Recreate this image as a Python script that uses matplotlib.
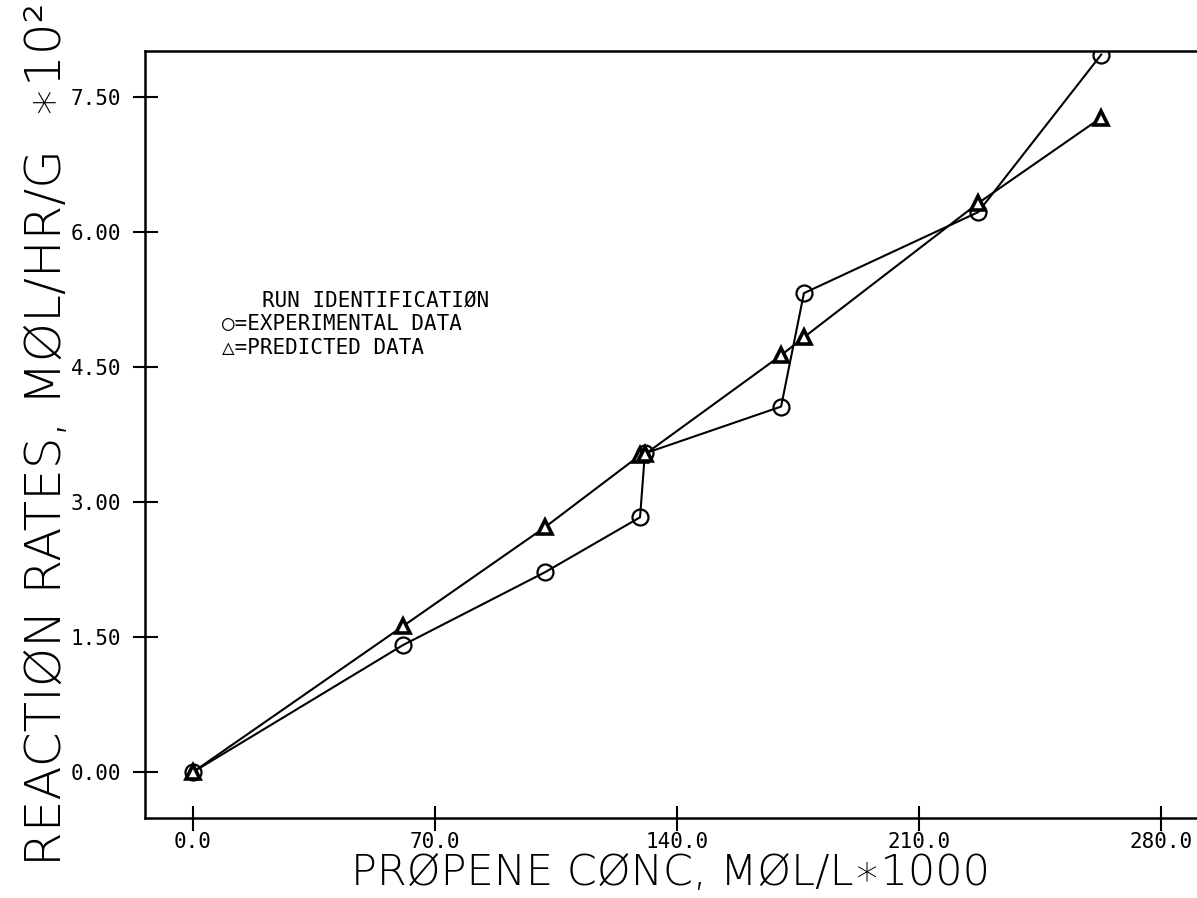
import matplotlib
matplotlib.use("Agg")
import matplotlib.pyplot as plt
from matplotlib.ticker import FixedLocator, FixedFormatter

# Propene concentration (mol/L * 1000)
conc = [0.0, 60.7, 101.8, 129.3, 130.7, 170.1, 176.7, 227.1, 262.7]
# Reaction rates (mol/hr/g * 10^2)
rate_exp = [0.00, 1.41, 2.22, 2.83, 3.54, 4.06, 5.32, 6.22, 7.97]
rate_pred = [0.00, 1.62, 2.72, 3.52, 3.53, 4.63, 4.83, 6.32, 7.27]

x_ticks = [0.0, 70.0, 140.0, 210.0, 280.0]
x_tick_labels = ["0.0", "70.0", "140.0", "210.0", "280.0"]
y_ticks = [0.0, 1.5, 3.0, 4.5, 6.0, 7.5]
y_tick_labels = ["0.00", "1.50", "3.00", "4.50", "6.00", "7.50"]

fig = plt.figure(figsize=(11.97, 8.98), dpi=100)
ax = fig.add_axes([0.1211, 0.0891, 0.8789, 0.8541])

ax.plot(conc, rate_exp, color="black", lw=1.5, marker="o", ms=11.5,
        mfc="none", mec="black", mew=1.6, zorder=3)
ax.plot(conc, rate_pred, color="black", lw=1.5, marker="^", ms=10,
        mfc="white", mec="black", mew=2.6, zorder=3)

ax.set_xlim(-13.9, 290.4)
ax.set_ylim(-0.51, 8.01)

for side in ("left", "top", "bottom"):
    ax.spines[side].set_linewidth(1.8)
ax.spines["right"].set_visible(False)

ax.xaxis.set_major_locator(FixedLocator(x_ticks))
ax.xaxis.set_major_formatter(FixedFormatter(x_tick_labels))
ax.yaxis.set_major_locator(FixedLocator(y_ticks))
ax.yaxis.set_major_formatter(FixedFormatter(y_tick_labels))
ax.tick_params(direction="inout", length=18, width=1.5, colors="black")
ax.tick_params(axis="x", pad=1)
ax.tick_params(axis="y", pad=8)
for lab in ax.get_xticklabels() + ax.get_yticklabels():
    lab.set_fontfamily("DejaVu Sans Mono")
    lab.set_fontsize(15)

label_fams = ["DejaVu Sans", "DejaVu Sans Mono", "Noto Sans"]
ax.set_xlabel("PRØPENE CØNC, MØL/L∗1000", labelpad=0,
              family=label_fams, fontsize=31, fontweight="light")
ax.set_ylabel("REACTIØN RATES, MØL/HR/G  ∗10²", labelpad=0,
              family=label_fams, fontsize=36, fontweight="light")

key_font = dict(family=["DejaVu Sans Mono", "DejaVu Sans"], fontsize=15,
                va="center", ha="left", transform=ax.transAxes)
ax.text(0.111, 0.675, "RUN IDENTIFICATIØN", **key_font)
ax.text(0.073, 0.644, "○=EXPERIMENTAL DATA", **key_font)
ax.text(0.073, 0.613, "△=PREDICTED DATA", **key_font)

fig.savefig("out.png", dpi=100, facecolor="white")
